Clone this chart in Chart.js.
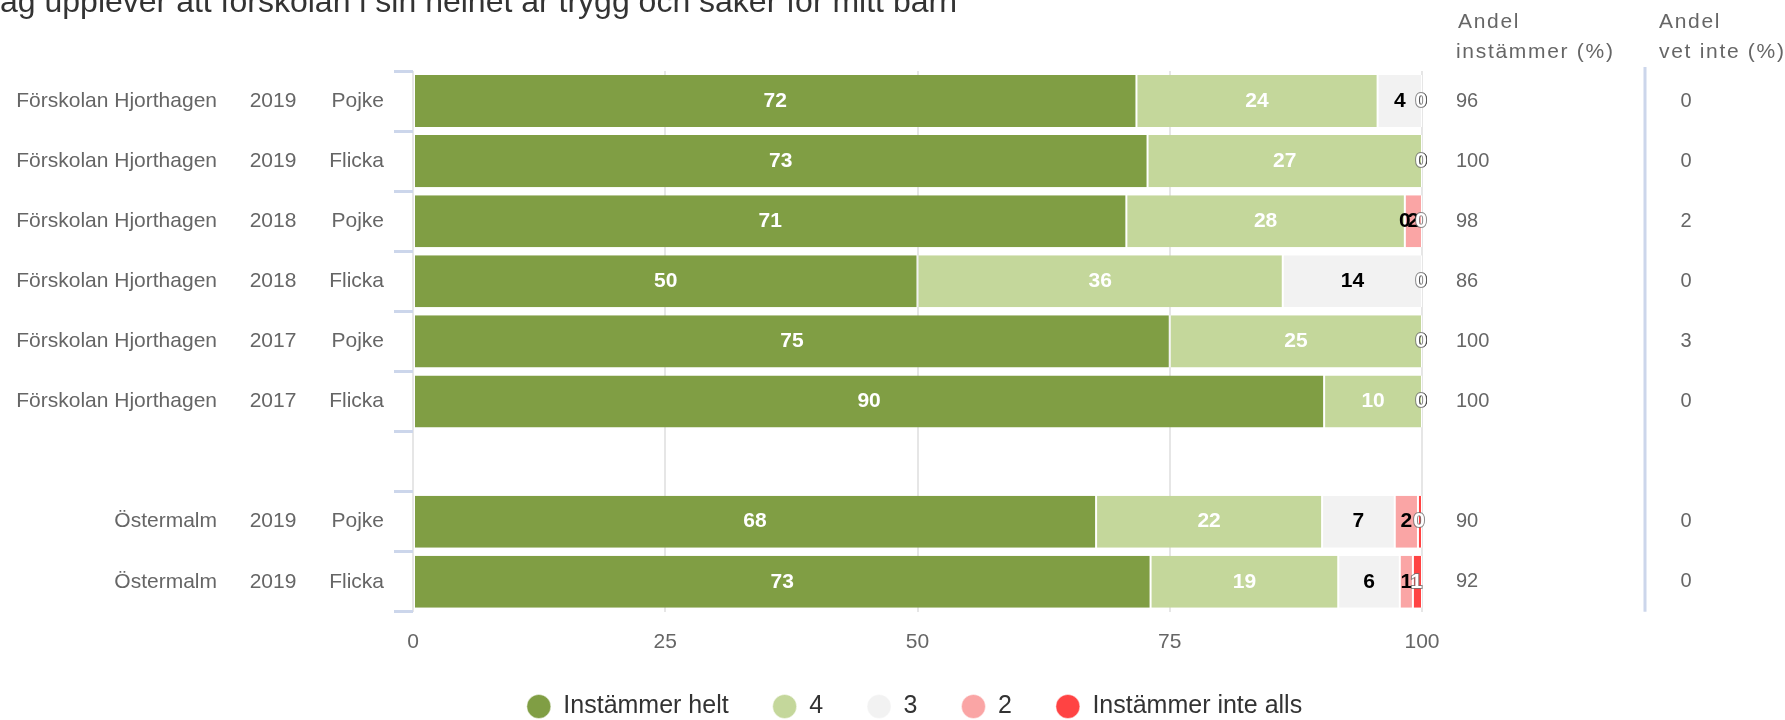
<!DOCTYPE html>
<html lang="sv">
<head>
<meta charset="utf-8">
<title>Jag upplever att förskolan i sin helhet är trygg och säker för mitt barn</title>
<script src="https://cdn.jsdelivr.net/npm/chart.js@4.4.1/dist/chart.umd.min.js"></script>
<style>
  html, body { margin: 0; padding: 0; background: #fff; overflow: hidden; }
  #wrap { position: relative; width: 1785px; height: 720px; }
</style>
</head>
<body>
<div id="wrap"><canvas id="chart"></canvas></div>
<script>
// Data
const title = 'Jag upplever att förskolan i sin helhet är trygg och säker för mitt barn';
const groups = ['Förskolan Hjorthagen', 'Förskolan Hjorthagen', 'Förskolan Hjorthagen', 'Förskolan Hjorthagen',
  'Förskolan Hjorthagen', 'Förskolan Hjorthagen', '', 'Östermalm', 'Östermalm'];
const years = ['2019', '2019', '2018', '2018', '2017', '2017', '', '2019', '2019'];
const genders = ['Pojke', 'Flicka', 'Pojke', 'Flicka', 'Pojke', 'Flicka', '', 'Pojke', 'Flicka'];

const seriesNames = ['Instämmer helt', '4', '3', '2', 'Instämmer inte alls'];
const helt = [71.7, 72.8, 70.7, 50.0, 75.0, 90.3, null, 67.7, 73.1];
const fyra = [23.9, 27.2, 27.6, 36.2, 25.0, 9.7, null, 22.4, 18.6];
const tre = [4.4, 0, 0, 13.8, 0, 0, null, 7.2, 6.1];
const tva = [0, 0, 1.7, 0, 0, 0, null, 2.3, 1.3];
const inteAlls = [0, 0, 0, 0, 0, 0, null, 0.4, 0.9];

const andelInstammer = [96, 100, 98, 86, 100, 100, null, 90, 92];
const andelVetInte = [0, 0, 2, 0, 3, 0, null, 0, 0];
const xTicks = [0, 25, 50, 75, 100];

// Styles
const FONT = '"Liberation Sans", Arial, sans-serif';
const colors = ['#809e44', '#c4d79b', '#f2f2f2', '#faa5a5', '#ff4343'];
const labelColors = ['#ffffff', '#ffffff', '#000000', '#000000', '#ffffff'];

const rowKeys = groups.map((g, i) => `${g} ${years[i]} ${genders[i]}`.trim());
const seriesData = [helt, fyra, tre, tva, inteAlls];

// Title, partly outside the canvas like the original
const titlePlugin = {
  id: 'cutTitle',
  afterDraw(chart) {
    const ctx = chart.ctx;
    ctx.save();
    ctx.font = `32px ${FONT}`;
    ctx.fillStyle = '#333333';
    ctx.textAlign = 'left';
    ctx.textBaseline = 'alphabetic';
    ctx.fillText(title, -16, 12);
    ctx.restore();
  }
};

// Three label columns left of the bars
const rowLabels = {
  id: 'rowLabels',
  afterDraw(chart) {
    const { ctx, chartArea, scales: { y } } = chart;
    ctx.save();
    ctx.font = `21px ${FONT}`;
    ctx.fillStyle = '#666666';
    ctx.textBaseline = 'middle';
    groups.forEach((g, i) => {
      const py = y.getPixelForValue(i);
      ctx.textAlign = 'right';
      ctx.fillText(g, chartArea.left - 196, py);
      ctx.textAlign = 'center';
      ctx.fillText(years[i], chartArea.left - 140, py);
      ctx.textAlign = 'right';
      ctx.fillText(genders[i], chartArea.left - 29, py);
    });
    ctx.restore();
  }
};

// Right side table: Andel instämmer / Andel vet inte
const sideTable = {
  id: 'sideTable',
  afterDraw(chart) {
    const { ctx, chartArea, scales: { y } } = chart;
    const col1 = chartArea.right + 34;
    const line = chartArea.right + 223;
    const col2 = chartArea.right + 264;
    ctx.save();
    ctx.fillStyle = '#666666';
    ctx.textBaseline = 'alphabetic';
    ctx.textAlign = 'left';
    ctx.font = `21px ${FONT}`;
    ctx.letterSpacing = '1.7px';
    ctx.fillText('Andel', col1 + 2, 28);
    ctx.fillText('instämmer (%)', col1, 58);
    ctx.fillText('Andel', line + 14, 28);
    ctx.fillText('vet inte (%)', line + 14, 58);
    ctx.letterSpacing = '0px';

    ctx.strokeStyle = '#ccd6eb';
    ctx.lineWidth = 3;
    ctx.beginPath();
    ctx.moveTo(line, chartArea.top - 4);
    ctx.lineTo(line, chartArea.bottom);
    ctx.stroke();

    ctx.font = `20px ${FONT}`;
    ctx.textBaseline = 'middle';
    andelInstammer.forEach((v, i) => {
      if (v === null) return;
      const py = y.getPixelForValue(i);
      ctx.textAlign = 'left';
      ctx.fillText(String(v), col1, py);
      ctx.textAlign = 'center';
      ctx.fillText(String(andelVetInte[i]), col2, py);
    });
    ctx.restore();
  }
};

// Value labels inside the stacked segments
const barLabels = {
  id: 'barLabels',
  afterDatasetsDraw(chart) {
    const ctx = chart.ctx;
    ctx.save();
    ctx.font = `bold 21px ${FONT}`;
    ctx.textAlign = 'center';
    ctx.textBaseline = 'middle';
    chart.data.datasets.forEach((ds, di) => {
      const meta = chart.getDatasetMeta(di);
      meta.data.forEach((bar, i) => {
        const v = ds.data[i];
        if (v === null || v === undefined) return;
        const { x, y, base } = bar.getProps(['x', 'y', 'base'], true);
        const last = di === chart.data.datasets.length - 1;
        const cx = (x + base) / 2 - (last ? 1 : 0);
        const txt = String(Math.round(v));
        if (last) {
          // outlined label for the last series, as in the original
          ctx.lineWidth = 2;
          ctx.strokeStyle = 'rgba(110,110,110,0.8)';
          ctx.strokeText(txt, cx, y);
        }
        ctx.fillStyle = labelColors[di];
        ctx.fillText(txt, cx, y);
      });
    });
    ctx.restore();
  }
};

new Chart(document.getElementById('chart'), {
  type: 'bar',
  data: {
    labels: rowKeys,
    datasets: seriesNames.map((name, i) => ({
      label: name,
      data: seriesData[i],
      backgroundColor: colors[i],
      borderColor: '#ffffff',
      borderWidth: { left: 1, right: 1, top: 0, bottom: 0 },
      borderSkipped: false,
      barPercentage: 52 / 60,
      categoryPercentage: 1
    }))
  },
  options: {
    indexAxis: 'y',
    responsive: true,
    maintainAspectRatio: false,
    animation: false,
    layout: {
      padding: { left: 44, right: 0, top: 71, bottom: -9 }
    },
    scales: {
      x: {
        stacked: true,
        min: 0,
        max: 100,
        afterBuildTicks(scale) {
          scale.ticks = xTicks.map(v => ({ value: v }));
        },
        afterFit(scale) {
          scale.height -= 23;
        },
        grid: { color: '#e6e6e6', lineWidth: 2, drawTicks: false },
        border: { display: false },
        ticks: {
          color: '#666666',
          padding: 18,
          font: { family: FONT, size: 21 }
        }
      },
      y: {
        stacked: true,
        grid: {
          drawOnChartArea: false,
          color: '#ccd6eb',
          lineWidth: 3,
          tickLength: 19,
          offset: true
        },
        border: { display: false },
        ticks: { display: false },
        afterFit(scale) {
          scale.width = 369;
        }
      },
      yRight: {
        type: 'category',
        labels: [''],
        position: 'right',
        grid: { display: false },
        border: { display: false },
        ticks: { display: false },
        afterFit(scale) {
          scale.width = 363;
        }
      }
    },
    plugins: {
      title: { display: false },
      tooltip: { enabled: false },
      legend: {
        position: 'bottom',
        align: 'center',
        labels: {
          usePointStyle: true,
          pointStyle: 'circle',
          pointStyleWidth: 24,
          boxHeight: 17,
          padding: 44,
          color: '#333333',
          font: { family: FONT, size: 25 }
        }
      }
    }
  },
  plugins: [titlePlugin, rowLabels, sideTable, barLabels]
});
</script>
</body>
</html>
